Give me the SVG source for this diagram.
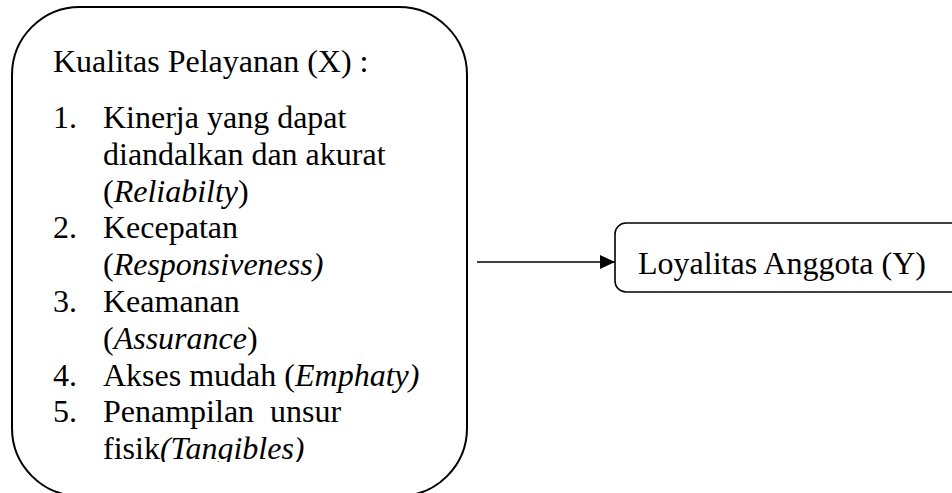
<svg xmlns="http://www.w3.org/2000/svg" width="952" height="493" viewBox="0 0 952 493">
<style>
  .t { font-size: 32px; fill: #000; }
  .i { font-style: italic; }
  .box { fill: #fff; stroke: #000; stroke-width: 2; }
  .box2 { fill: #fff; stroke: #000; stroke-width: 1.6; }
  .conn { stroke: #000; stroke-width: 1.6; fill: none; }
</style>
<defs>
  <clipPath id="clipX"><rect x="0" y="0" width="952" height="462"/></clipPath>
  <marker id="arr" markerWidth="15" markerHeight="14" refX="15" refY="7" orient="auto" markerUnits="userSpaceOnUse" viewBox="0 0 15 14">
    <path d="M0,0 L15,7 L0,14 Z" fill="#000"/>
  </marker>
</defs>
<rect width="952" height="493" fill="#fff"/>
<g id="nodeX" font-family="Liberation Serif">
  <rect class="box" x="12" y="7" width="455" height="489" rx="68" ry="68"/>
  <g clip-path="url(#clipX)">
    <text class="t" x="53" y="72">Kualitas Pelayanan (X) :</text>
    <text class="t" x="53" y="128">1.</text>
    <text class="t" x="103" y="128">Kinerja yang dapat</text>
    <text class="t" x="103" y="164.8">diandalkan dan akurat</text>
    <text class="t" x="103" y="201.6">(<tspan class="i">Reliabilty</tspan>)</text>
    <text class="t" x="53" y="238.4">2.</text>
    <text class="t" x="103" y="238.4">Kecepatan</text>
    <text class="t" x="103" y="275.2">(<tspan class="i">Responsiveness)</tspan></text>
    <text class="t" x="53" y="312">3.</text>
    <text class="t" x="103" y="312">Keamanan</text>
    <text class="t" x="103" y="348.8">(<tspan class="i">Assurance</tspan>)</text>
    <text class="t" x="53" y="385.6">4.</text>
    <text class="t" x="103" y="385.6">Akses mudah (<tspan class="i">Emphaty)</tspan></text>
    <text class="t" x="53" y="422.4">5.</text>
    <text class="t" x="103" y="422.4" xml:space="preserve">Penampilan  unsur</text>
    <text class="t" x="103" y="459.2">fisik<tspan class="i">(Tangibles)</tspan></text>
  </g>
</g>
<g id="nodeY" font-family="Liberation Serif">
  <rect class="box2" x="615" y="223" width="360" height="69" rx="11" ry="11"/>
  <text class="t" x="638" y="274">Loyalitas Anggota (Y)</text>
</g>
<g id="connectors">
  <line class="conn" x1="477" y1="262" x2="615" y2="262" marker-end="url(#arr)"/>
</g>
</svg>
